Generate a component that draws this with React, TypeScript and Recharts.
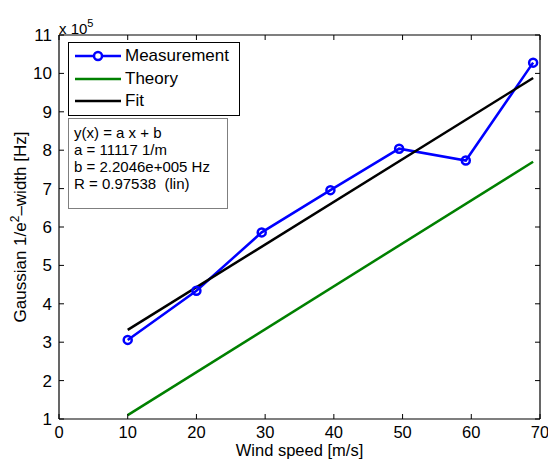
import { LineChart, Line, XAxis, YAxis, ReferenceLine, Legend, Label } from "recharts";

const windSpeed = [10, 20, 29.5, 39.5, 49.5, 59.2, 69];
const measuredWidth = [306000, 434000, 586000, 696000, 804000, 773000, 1028000];
const theorySpeed = [10, 69];
const theoryWidth = [110000, 770000];
const fitSpeed = [10, 69];
const fitWidth = [332000, 988000];
const xTicks = [0, 10, 20, 30, 40, 50, 60, 70];
const yTicks = [100000, 200000, 300000, 400000, 500000, 600000, 700000, 800000, 900000, 1000000, 1100000];
const seriesOrder = ["Measurement", "Theory", "Fit"];
const fitText = ["y(x) = a x + b", "a = 11117 1/m", "b = 2.2046e+005 Hz", "R = 0.97538  (lin)"];

const measurement = windSpeed.map((x, i) => ({ x, y: measuredWidth[i] }));
const theory = theorySpeed.map((x, i) => ({ x, y: theoryWidth[i] }));
const fit = fitSpeed.map((x, i) => ({ x, y: fitWidth[i] }));

const FONT = '"Liberation Sans", Arial, Helvetica, sans-serif';
const W = 548;
const H = 460;
// plot box, MATLAB style: inward ticks on all four sides
const TOP = 35;
const BOTTOM = 419;
const LEFT = 59;
const RIGHT = 540;
const TICK = 5;

function XTick({ x, y, payload }: any) {
  return (
    <g>
      <line x1={x} x2={x} y1={BOTTOM} y2={BOTTOM - TICK} stroke="#000" />
      <line x1={x} x2={x} y1={TOP} y2={TOP + TICK} stroke="#000" />
      <text x={x} y={y} dy="0.71em" textAnchor="middle" fontSize={16.5} fontFamily={FONT} fill="#000">
        {payload.value}
      </text>
    </g>
  );
}

function YTick({ x, y, payload }: any) {
  return (
    <g>
      <line x1={LEFT} x2={LEFT + TICK} y1={y} y2={y} stroke="#000" />
      <line x1={RIGHT - TICK} x2={RIGHT} y1={y} y2={y} stroke="#000" />
      <text x={x} y={y} dy="0.355em" textAnchor="end" fontSize={17} fontFamily={FONT} fill="#000">
        {payload.value / 100000}
      </text>
    </g>
  );
}

function LegendBox({ payload }: any) {
  const items = [...(payload || [])].sort(
    (a: any, b: any) => seriesOrder.indexOf(a.value) - seriesOrder.indexOf(b.value)
  );
  return (
    <div
      style={{
        border: "1.5px solid #000",
        background: "#fff",
        padding: "2px 6px 2px 6px",
        width: 158,
        fontFamily: FONT,
        fontSize: 17,
      }}
    >
      {items.map((entry: any) => (
        <div key={entry.value} style={{ display: "flex", alignItems: "center", height: 22.5 }}>
          <svg width={50} height={14} style={{ flex: "none" }}>
            <line x1={0} x2={46} y1={7} y2={7} stroke={entry.color} strokeWidth={2.5} />
            {entry.value === "Measurement" && (
              <circle cx={23} cy={7} r={4} fill="#fff" stroke={entry.color} strokeWidth={2.5} />
            )}
          </svg>
          <span>{entry.value}</span>
        </div>
      ))}
    </div>
  );
}

export default function App() {
  return (
    <div style={{ position: "absolute", left: 0, top: 0, width: W, height: H, background: "#fff" }}>
      <LineChart width={W} height={H} margin={{ top: TOP, right: W - RIGHT, bottom: 0, left: 0 }}>
        <XAxis
          type="number"
          dataKey="x"
          domain={[0, 70]}
          ticks={xTicks}
          interval={0}
          height={H - BOTTOM}
          tickSize={0}
          tickMargin={7}
          tick={<XTick />}
          axisLine={{ stroke: "#000", strokeWidth: 1.2 }}
        >
          <Label
            content={({ viewBox }: any) => (
              <text
                x={viewBox.x + viewBox.width / 2}
                y={viewBox.y + 37}
                textAnchor="middle"
                fontSize={16.5}
                fontFamily={FONT}
                fill="#000"
              >
                Wind speed [m/s]
              </text>
            )}
          />
        </XAxis>
        <YAxis
          type="number"
          dataKey="y"
          domain={[100000, 1100000]}
          ticks={yTicks}
          interval={0}
          width={LEFT}
          tickSize={0}
          tickMargin={7}
          tick={<YTick />}
          axisLine={{ stroke: "#000", strokeWidth: 1.2 }}
        >
          <Label
            content={({ viewBox }: any) => {
              const cy = viewBox.y + viewBox.height / 2;
              return (
                <text
                  x={26}
                  y={cy}
                  transform={`rotate(-90, 26, ${cy})`}
                  textAnchor="middle"
                  fontSize={17}
                  fontFamily={FONT}
                  fill="#000"
                >
                  Gaussian 1/e
                  <tspan dy={-7} fontSize={12}>2</tspan>
                  <tspan dy={7}>–width [Hz]</tspan>
                </text>
              );
            }}
          />
        </YAxis>
        <ReferenceLine y={1100000} stroke="#000" strokeWidth={1.2} />
        <ReferenceLine x={70} stroke="#000" strokeWidth={1.2} />
        <Line
          name="Measurement"
          data={measurement}
          dataKey="y"
          stroke="#0000ff"
          strokeWidth={2.5}
          dot={{ r: 4, fill: "none", stroke: "#0000ff", strokeWidth: 2.5 }}
          isAnimationActive={false}
        />
        <Line
          name="Theory"
          data={theory}
          dataKey="y"
          stroke="#008000"
          strokeWidth={2.5}
          dot={false}
          isAnimationActive={false}
        />
        <Line
          name="Fit"
          data={fit}
          dataKey="y"
          stroke="#000000"
          strokeWidth={2.5}
          dot={false}
          isAnimationActive={false}
        />
        <Legend
          layout="vertical"
          align="center"
          verticalAlign="middle"
          content={<LegendBox />}
          wrapperStyle={{ left: 68, top: 42, width: "auto", height: "auto", right: "auto", bottom: "auto" }}
        />
      </LineChart>
      <div
        style={{
          position: "absolute",
          left: 59,
          top: 16,
          fontFamily: FONT,
          fontSize: 15,
          lineHeight: "15px",
        }}
      >
        x 10<sup style={{ fontSize: 11, verticalAlign: 7 }}>5</sup>
      </div>
      <div
        style={{
          position: "absolute",
          left: 68,
          top: 118,
          width: 160,
          height: 91,
          boxSizing: "border-box",
          border: "1px solid #7f7f7f",
          background: "#fff",
          padding: "5px 0 0 5px",
          fontFamily: FONT,
          fontSize: 15,
          lineHeight: "17px",
        }}
      >
        {fitText.map((t) => (
          <div key={t} style={{ whiteSpace: "pre" }}>
            {t}
          </div>
        ))}
      </div>
    </div>
  );
}
